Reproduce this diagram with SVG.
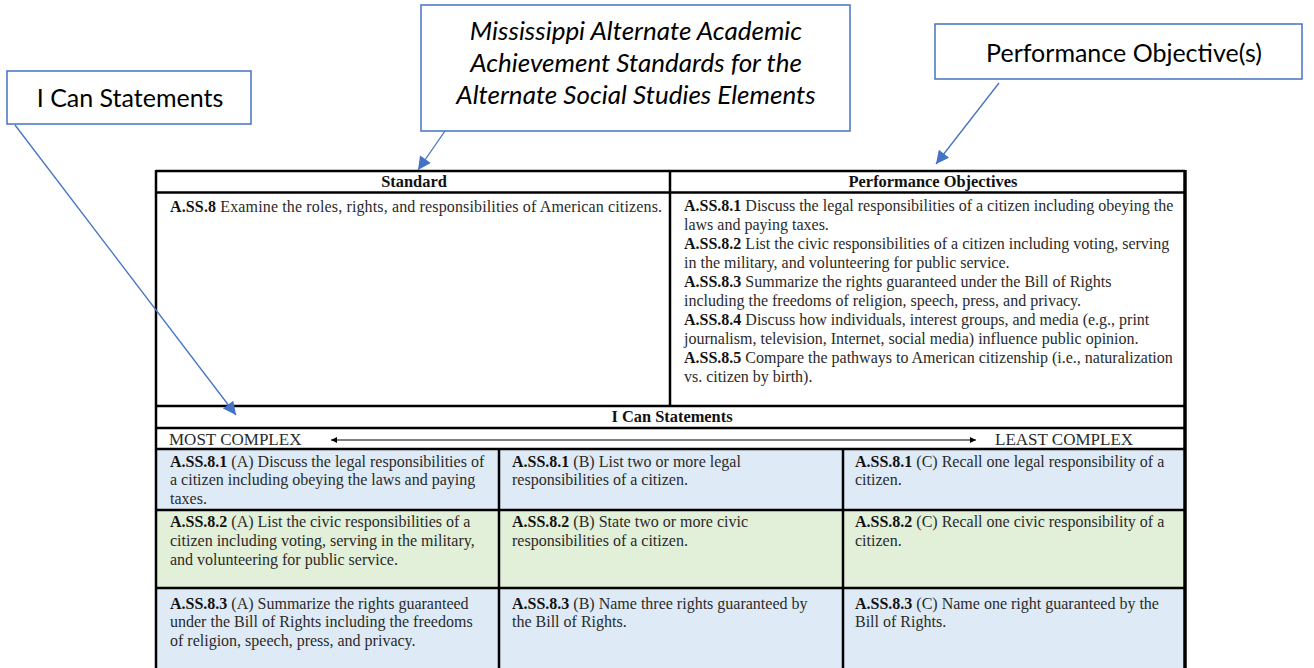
<svg xmlns="http://www.w3.org/2000/svg" width="1314" height="668" viewBox="0 0 1314 668">
<defs>
<marker id="blueArrow" viewBox="0 0 10 10" refX="10" refY="5" markerWidth="17" markerHeight="13" markerUnits="userSpaceOnUse" orient="auto">
<path d="M0,0 L10,5 L0,10 z" fill="#4472C4"/>
</marker>
<marker id="blackArrow" viewBox="0 0 10 10" refX="10" refY="5" markerWidth="8" markerHeight="6" markerUnits="userSpaceOnUse" orient="auto-start-reverse">
<path d="M0,0 L10,5 L0,10 z" fill="#000"/>
</marker>
</defs>
<style>
.callout{fill:#fff;stroke:#4472C4;stroke-width:1.5}
.ctext{font-family:Lato,"Liberation Sans",sans-serif;font-size:25px;fill:#000}
.ital{font-style:italic;font-size:26px}
.conn{stroke:#4472C4;stroke-width:1.3;fill:none;marker-end:url(#blueArrow)}
.grid{stroke:#000;stroke-width:2.5;fill:none}
.t{font-family:"Liberation Serif","Times New Roman",serif;font-size:16px;fill:#2a2a2a}
.cx{font-size:17px}
.b{font-weight:bold;fill:#111}
.hd{font-family:"Liberation Serif","Times New Roman",serif;font-size:16.4px;font-weight:bold;fill:#111}
.blue{fill:#DEEAF6}
.green{fill:#E2EFD9}
</style>
<rect width="1314" height="668" fill="#fff"/>

<g id="node-icanstatements">
<rect class="callout" x="7" y="71" width="244" height="53"/>
<text class="ctext" x="130" y="107" text-anchor="middle">I Can Statements</text>
</g>
<g id="node-standards">
<rect class="callout" x="421" y="5" width="429" height="126"/>
<text class="ctext ital" x="636" y="40" text-anchor="middle">Mississippi Alternate Academic</text>
<text class="ctext ital" x="636" y="72" text-anchor="middle">Achievement Standards for the</text>
<text class="ctext ital" x="636" y="104" text-anchor="middle">Alternate Social Studies Elements</text>
</g>
<g id="node-performance">
<rect class="callout" x="935" y="24" width="367" height="55"/>
<text class="ctext" x="1124" y="62" text-anchor="middle">Performance Objective(s)</text>
</g>

<g id="node-table">
<rect class="blue" x="156" y="449" width="1029" height="61"/>
<rect class="green" x="156" y="510" width="1029" height="78"/>
<rect class="blue" x="156" y="588" width="1029" height="82"/>
<line class="grid" x1="156" y1="171" x2="1185" y2="171"/>
<line class="grid" x1="156" y1="192.5" x2="1185" y2="192.5"/>
<line class="grid" x1="156" y1="406" x2="1185" y2="406"/>
<line class="grid" x1="156" y1="428" x2="1185" y2="428"/>
<line class="grid" x1="156" y1="449" x2="1185" y2="449"/>
<line class="grid" x1="156" y1="510" x2="1185" y2="510"/>
<line class="grid" x1="156" y1="588" x2="1185" y2="588"/>
<line class="grid" x1="156" y1="170" x2="156" y2="670"/>
<line class="grid" x1="1185" y1="170" x2="1185" y2="670" style="stroke-width:3.5"/>
<line class="grid" x1="670" y1="171" x2="670" y2="406"/>
<line class="grid" x1="499" y1="449" x2="499" y2="670"/>
<line class="grid" x1="843" y1="449" x2="843" y2="670"/>

<text class="hd" x="414" y="187" text-anchor="middle">Standard</text>
<text class="hd" x="933" y="187" text-anchor="middle">Performance Objectives</text>
<text class="t" x="170" y="212" textLength="492" lengthAdjust="spacing"><tspan class="b">A.SS.8</tspan> Examine the roles, rights, and responsibilities of American citizens.</text>

<g id="perf-objectives">
<text class="t" x="684" y="211"><tspan class="b">A.SS.8.1</tspan> Discuss the legal responsibilities of a citizen including obeying the</text>
<text class="t" x="684" y="230">laws and paying taxes.</text>
<text class="t" x="684" y="249"><tspan class="b">A.SS.8.2</tspan> List the civic responsibilities of a citizen including voting, serving</text>
<text class="t" x="684" y="268">in the military, and volunteering for public service.</text>
<text class="t" x="684" y="287"><tspan class="b">A.SS.8.3</tspan> Summarize the rights guaranteed under the Bill of Rights</text>
<text class="t" x="684" y="306">including the freedoms of religion, speech, press, and privacy.</text>
<text class="t" x="684" y="325"><tspan class="b">A.SS.8.4</tspan> Discuss how individuals, interest groups, and media (e.g., print</text>
<text class="t" x="684" y="344">journalism, television, Internet, social media) influence public opinion.</text>
<text class="t" x="684" y="363"><tspan class="b">A.SS.8.5</tspan> Compare the pathways to American citizenship (i.e., naturalization</text>
<text class="t" x="684" y="382">vs. citizen by birth).</text>
</g>

<text class="hd" x="672" y="422" text-anchor="middle">I Can Statements</text>
<text class="t cx" x="169" y="445">MOST COMPLEX</text>
<line x1="331" y1="440" x2="976" y2="440" stroke="#000" stroke-width="1" marker-start="url(#blackArrow)" marker-end="url(#blackArrow)"/>
<text class="t cx" x="995" y="445">LEAST COMPLEX</text>

<g id="cell-1A">
<text class="t" x="170" y="467"><tspan class="b">A.SS.8.1</tspan> (A) Discuss the legal responsibilities of</text>
<text class="t" x="170" y="485">a citizen including obeying the laws and paying</text>
<text class="t" x="170" y="504">taxes.</text>
</g>
<g id="cell-1B">
<text class="t" x="512" y="467"><tspan class="b">A.SS.8.1</tspan> (B) List two or more legal</text>
<text class="t" x="512" y="485">responsibilities of a citizen.</text>
</g>
<g id="cell-1C">
<text class="t" x="855" y="467"><tspan class="b">A.SS.8.1</tspan> (C) Recall one legal responsibility of a</text>
<text class="t" x="855" y="485">citizen.</text>
</g>
<g id="cell-2A">
<text class="t" x="170" y="527"><tspan class="b">A.SS.8.2</tspan> (A) List the civic responsibilities of a</text>
<text class="t" x="170" y="546">citizen including voting, serving in the military,</text>
<text class="t" x="170" y="565">and volunteering for public service.</text>
</g>
<g id="cell-2B">
<text class="t" x="512" y="527"><tspan class="b">A.SS.8.2</tspan> (B) State two or more civic</text>
<text class="t" x="512" y="546">responsibilities of a citizen.</text>
</g>
<g id="cell-2C">
<text class="t" x="855" y="527"><tspan class="b">A.SS.8.2</tspan> (C) Recall one civic responsibility of a</text>
<text class="t" x="855" y="546">citizen.</text>
</g>
<g id="cell-3A">
<text class="t" x="170" y="609"><tspan class="b">A.SS.8.3</tspan> (A) Summarize the rights guaranteed</text>
<text class="t" x="170" y="627">under the Bill of Rights including the freedoms</text>
<text class="t" x="170" y="646">of religion, speech, press, and privacy.</text>
</g>
<g id="cell-3B">
<text class="t" x="512" y="609"><tspan class="b">A.SS.8.3</tspan> (B) Name three rights guaranteed by</text>
<text class="t" x="512" y="627">the Bill of Rights.</text>
</g>
<g id="cell-3C">
<text class="t" x="855" y="609"><tspan class="b">A.SS.8.3</tspan> (C) Name one right guaranteed by the</text>
<text class="t" x="855" y="627">Bill of Rights.</text>
</g>
</g>

<g id="connectors">
<line class="conn" x1="15" y1="125" x2="236" y2="415"/>
<line class="conn" x1="445" y1="131" x2="418" y2="170"/>
<line class="conn" x1="999" y1="83" x2="936" y2="164"/>
</g>
</svg>
